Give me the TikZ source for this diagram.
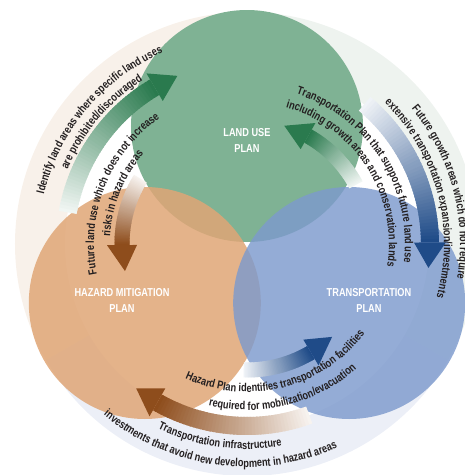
\documentclass[tikz,border=0pt]{standalone}
\usepackage{fontspec}
\setmainfont{Liberation Sans}[FakeStretch=0.8]
\newfontfamily\condbold{Liberation Sans}[FakeStretch=0.8, UprightFont={* Bold}]
\usetikzlibrary{decorations.text}

% plan colours
\definecolor{landuse}{HTML}{7FB294}
\definecolor{hazard}{HTML}{E0A676}
\definecolor{transport}{HTML}{7D9ACD}
% pale outer sectors
\definecolor{paleL}{HTML}{F8F1EA}
\definecolor{paleT}{HTML}{EEF3EF}
\definecolor{paleH}{HTML}{ECEFF7}
% arrow head colours
\definecolor{grnD}{HTML}{2A7A4E}
\definecolor{bluD}{HTML}{1F4B88}
\definecolor{brnD}{HTML}{8E4D1C}
\definecolor{txt}{HTML}{231F20}

\tikzset{
  plan/.style={circle, minimum size=232pt, inner sep=0pt, draw=none},
  planlabel/.style={text=white, align=center, font=\condbold\fontsize{11.5}{16}\selectfont},
  arctext/.style={decorate, decoration={text along path, text align=center, text color=txt,
    text={#1}}},
}

% curved arrow along a circle about the centre, fading from white at the tail
% #1 tail angle, #2 head base angle, #3 tip angle, #4 radius,
% #5 shaft half width, #6 head half width, #7 colour
\newcommand\ringarrow[7]{%
  \pgfmathsetmacro\rIn{#4-#5}%
  \pgfmathsetmacro\rOut{#4+#5}%
  \pgfmathsetmacro\hIn{#4-#6}%
  \pgfmathsetmacro\hOut{#4+#6}%
  \foreach \k in {1,...,48}{%
    \pgfmathsetmacro\angA{#1+(#2-#1)*(\k-1)/48}%
    \pgfmathsetmacro\angB{#1+(#2-#1)*min(\k+0.6,48)/48}%
    \pgfmathtruncatemacro\pct{6+94*\k/48}%
    \fill[#7!\pct!white] (\angA:\rIn) arc[start angle=\angA, end angle=\angB, radius=\rIn]
      -- (\angB:\rOut) arc[start angle=\angB, end angle=\angA, radius=\rOut] -- cycle;
  }%
  \fill[#7] (#2:\hIn) -- (#3:#4) -- (#2:\hOut) -- cycle;
}

% text on an arc read clockwise (tops outward): centre angle, radius, half span, text
\newcommand\cwtext[4]{%
  \path[arctext={#4}] ({#1+#3}:#2) arc[start angle={#1+#3}, end angle={#1-#3}, radius=#2];}
% text on an arc read anticlockwise (tops inward)
\newcommand\ccwtext[4]{%
  \path[arctext={#4}] ({#1-#3}:#2) arc[start angle={#1-#3}, end angle={#1+#3}, radius=#2];}

\begin{document}
\condbold\fontsize{11.5}{13}\selectfont
\begin{tikzpicture}[x=1pt, y=1pt]
\condbold\fontsize{11.5}{13}\selectfont
\clip (-247,-231) rectangle (218,244);

% pale outer sectors and white inner disc
\fill[paleL] (0,0) -- (90:232) arc[start angle=90, end angle=210, radius=232] -- cycle;
\fill[paleH] (0,0) -- (210:232) arc[start angle=210, end angle=330, radius=232] -- cycle;
\fill[paleT] (0,0) -- (-30:232) arc[start angle=-30, end angle=90, radius=232] -- cycle;
\fill[white] (0,0) circle[radius=182];

% the three plans
\node[plan, fill=landuse] (landuse) at (90:118) {};
\node[plan, fill=hazard, fill opacity=0.85] (hazard) at (210:118) {};
\node[plan, fill=transport, fill opacity=0.82] (transport) at (330:118) {};

% outer arrows (clockwise)
\ringarrow{170}{120.5}{112.5}{182}{9}{16}{grnD}
\ringarrow{50}{0.5}{-7.5}{183}{9}{16}{bluD}
\ringarrow{290}{240.5}{232.5}{182}{9}{16}{brnD}
% inner arrows (anticlockwise)
\ringarrow{148.5}{180.5}{192.5}{125}{7.5}{15}{brnD}
\ringarrow{28.5}{60.5}{72.5}{124}{7.5}{15}{grnD}
\ringarrow{268.5}{300.5}{312.5}{126}{7.5}{15}{bluD}

% outer texts
\cwtext{140}{209}{70}{Identify land areas where specific land uses}
\cwtext{140}{194}{70}{are prohibited/discouraged}
\cwtext{15}{213}{70}{Future growth areas which do not require}
\cwtext{15}{197}{70}{extensive transportation expansion/investments}
\ccwtext{262}{205}{70}{Transportation infrastructure}
\ccwtext{262}{223}{70}{investments that avoid new development in hazard areas}

% inner texts
\cwtext{158}{153}{70}{Future land use which does not increase}
\cwtext{158}{137}{70}{risks in hazard areas}
\cwtext{32.5}{158}{70}{Transportation Plan that supports future land use}
\cwtext{32.5}{142}{70}{including growth areas and conservation lands}
\ccwtext{284}{148}{70}{Hazard Plan identifies transportation facilities}
\ccwtext{284}{166}{70}{required for mobilization/evacuation}

% plan titles
\node[planlabel] (landuseLabel) at (0,104) {LAND USE\\PLAN};
\node[planlabel] (hazardLabel) at (-125,-56) {HAZARD MITIGATION\\PLAN};
\node[planlabel] (transportLabel) at (122,-56) {TRANSPORTATION\\PLAN};
\end{tikzpicture}
\end{document}
